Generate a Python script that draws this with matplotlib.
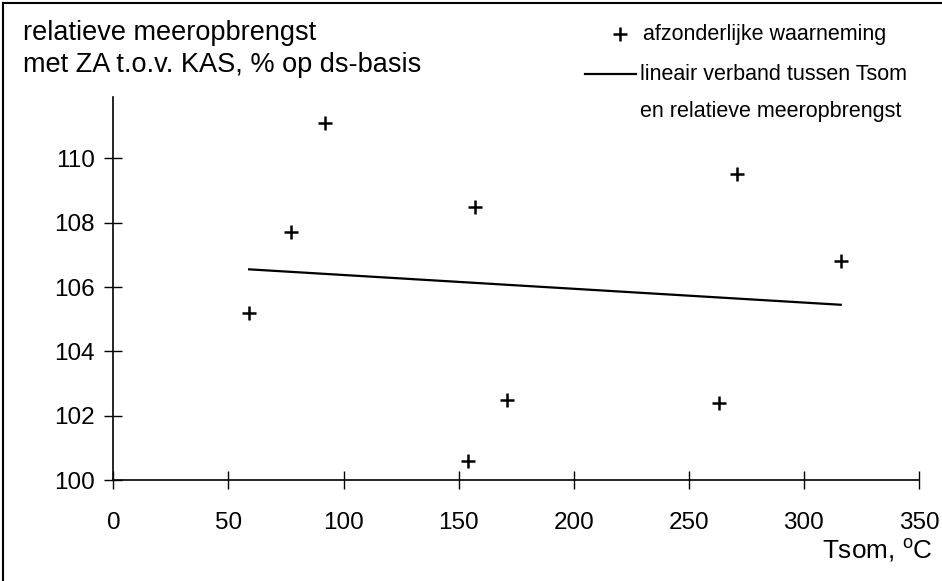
import matplotlib
matplotlib.use("Agg")
import matplotlib.pyplot as plt
from matplotlib.lines import Line2D

# Tsom (graaddagen) en relatieve meeropbrengst per waarneming
tsom = [59, 77, 92, 154, 157, 171, 263, 271, 316]
meeropbrengst = [105.2, 107.7, 111.1, 100.6, 108.5, 102.5, 102.4, 109.5, 106.8]

# lineair verband (begin- en eindpunt van de regressielijn)
lijn_x = [59, 316]
lijn_y = [106.55, 105.45]

x_ticks = [0, 50, 100, 150, 200, 250, 300, 350]
y_ticks = [100, 102, 104, 106, 108, 110]

plt.rcParams['font.family'] = ['Liberation Sans', 'DejaVu Sans']

W, H = 942, 581
fig = plt.figure(figsize=(W / 100, H / 100), dpi=100)
ax = fig.add_axes([0.1203, 0.1733, 0.8553, 0.6597])

ax.plot(tsom, meeropbrengst, linestyle='none', marker='+', color='black',
        markersize=10.5, markeredgewidth=1.8)
ax.plot(lijn_x, lijn_y, color='black', linewidth=1.6)

ax.set_xlim(0, 350)
ax.set_ylim(100, 111.9)
ax.set_xticks(x_ticks)
ax.set_yticks(y_ticks)
ax.spines['top'].set_visible(False)
ax.spines['right'].set_visible(False)
for s in ('left', 'bottom'):
    ax.spines[s].set_linewidth(1.2)
ax.tick_params(direction='inout', length=13, width=1.0, labelsize=17.5)
ax.tick_params(axis='x', pad=16)
ax.tick_params(axis='y', pad=7)

# as-titels
fig.text(23 / W, 1 - 40 / H, 'relatieve meeropbrengst', fontsize=19.5, va='baseline')
fig.text(23 / W, 1 - 72 / H, 'met ZA t.o.v. KAS, % op ds-basis', fontsize=19.5,
         va='baseline')
fig.text(933 / W, 1 - 558 / H, 'Tsom, $\\mathregular{^o}$C', fontsize=18.8,
         ha='right', va='baseline')

# legenda
fig.add_artist(Line2D([620 / W], [1 - 34 / H], marker='+', color='black',
                      markersize=10.5, markeredgewidth=1.8, linestyle='none'))
fig.text(643 / W, 1 - 40 / H, 'afzonderlijke waarneming', fontsize=15.5,
         va='baseline')
fig.add_artist(Line2D([585 / W, 636 / W], [1 - 74 / H, 1 - 74 / H],
                      color='black', linewidth=1.6))
fig.text(640 / W, 1 - 80 / H, 'lineair verband tussen Tsom', fontsize=15.5,
         va='baseline')
fig.text(640 / W, 1 - 117 / H, 'en relatieve meeropbrengst', fontsize=15.5,
         va='baseline')

# kader links en boven
fig.add_artist(Line2D([3 / W, 3 / W], [0, 1 - 3 / H], color='black', linewidth=1.5))
fig.add_artist(Line2D([3 / W, 1], [1 - 3 / H, 1 - 3 / H], color='black', linewidth=1.5))

fig.savefig('out.png', dpi=100)
